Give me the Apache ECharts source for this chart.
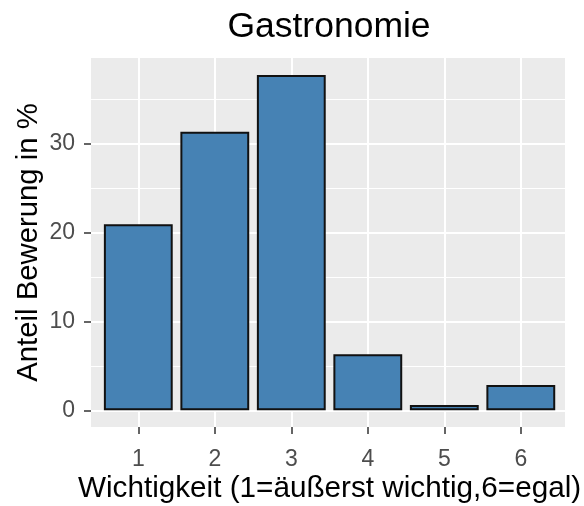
<!DOCTYPE html>
<html>
<head>
<meta charset="utf-8">
<script src="https://cdn.jsdelivr.net/npm/echarts@6/dist/echarts.min.js"></script>
<style>html,body{margin:0;padding:0;background:#fff}#c{width:584px;height:506px}</style>
</head>
<body>
<div id="c"></div>
<script>
const categories = ['1', '2', '3', '4', '5', '6'];
const values = [20.9, 31.3, 37.7, 6.3, 0.6, 2.85];
const yTicks = [0, 10, 20, 30];
const titleText = 'Gastronomie';
const xTitle = 'Wichtigkeit (1=äußerst wichtig,6=egal)';
const yTitle = 'Anteil Bewerung in %';

const font = 'Liberation Sans, Arial, sans-serif';
const chart = echarts.init(document.getElementById('c'), null, {renderer: 'canvas'});
chart.setOption({
  animation: false,
  title: {
    text: titleText, left: 324, top: 4, textAlign: 'center',
    textStyle: {fontFamily: font, fontSize: 35.5, fontWeight: 'normal', color: '#000'}
  },
  grid: [
    {left: 91, top: 58, width: 474, height: 369, show: true, backgroundColor: '#EBEBEB', borderWidth: 0, z: -2, containLabel: false, outerBoundsMode: 'none'},
    {left: 91, top: 55, width: 474, height: 356, show: false, containLabel: false, outerBoundsMode: 'none'},
    {left: 100.05, top: 58, width: 459, height: 369, show: false, containLabel: false, outerBoundsMode: 'none'}
  ],
  xAxis: [
    {gridIndex: 0, type: 'value', show: false, min: 0, max: 1},
    {gridIndex: 1, type: 'value', show: false, min: 0, max: 1},
    {gridIndex: 2, type: 'category', data: categories, position: 'bottom',
     axisLine: {show: false, onZero: false},
     axisTick: {show: true, alignWithLabel: true, length: 7, lineStyle: {color: '#333333', width: 1.5}},
     axisLabel: {color: '#4D4D4D', fontFamily: font, fontSize: 23, margin: 21},
     splitLine: {show: true, alignWithLabel: true, lineStyle: {color: '#FFFFFF', width: 2}},
     name: xTitle, nameLocation: 'middle', nameGap: 47, nameMoveOverlap: false,
     nameTextStyle: {color: '#000', fontFamily: font, fontSize: 29.7}
    }
  ],
  yAxis: [
    {gridIndex: 0, type: 'value', show: false, min: 0, max: 1},
    {gridIndex: 1, type: 'value', min: 0, max: 40, interval: 10,
     axisLine: {show: false, onZero: false},
     axisTick: {show: true, length: 7, customValues: yTicks, lineStyle: {color: '#333333', width: 1.5}},
     axisLabel: {color: '#4D4D4D', fontFamily: font, fontSize: 23, margin: 16, customValues: yTicks},
     splitLine: {show: true, lineStyle: {color: '#FFFFFF', width: 2}},
     minorTick: {show: false, splitNumber: 2},
     minorSplitLine: {show: true, lineStyle: {color: '#FFFFFF', width: 1}}
    },
    {gridIndex: 2, type: 'value', min: -1.885, max: 39.6,
     axisLine: {show: false, onZero: false}, axisTick: {show: false}, axisLabel: {show: false}, splitLine: {show: false},
     name: yTitle, nameLocation: 'middle', nameRotate: 90, nameGap: 57, nameMoveOverlap: false,
     nameTextStyle: {color: '#000', fontFamily: font, fontSize: 29.3}
    }
  ],
  series: [{
    type: 'bar', xAxisIndex: 2, yAxisIndex: 2,
    data: values, barWidth: '90%',
    itemStyle: {color: '#4682B4', borderColor: '#111111', borderWidth: 2}
  }]
});
</script>
</body>
</html>
